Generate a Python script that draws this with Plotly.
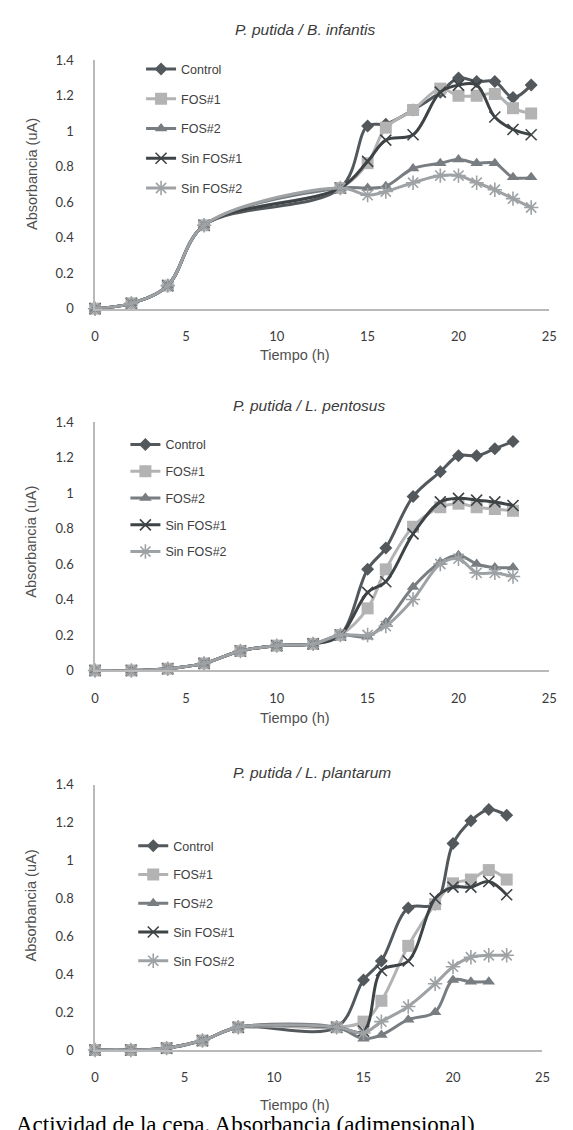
import plotly.graph_objects as go

# ---------------- data ----------------
series_names = ["Control", "FOS#1", "FOS#2", "Sin FOS#1", "Sin FOS#2"]

t1 = [0, 2, 4, 6, 13.5, 15, 16, 17.5, 19, 20, 21, 22, 23, 24]
p1_control = [0, 0.03, 0.13, 0.47, 0.68, 1.03, 1.04, 1.12, 1.22, 1.30, 1.28, 1.28, 1.19, 1.26]
p1_fos1 = [0, 0.03, 0.13, 0.47, 0.68, 0.82, 1.02, 1.12, 1.24, 1.20, 1.20, 1.21, 1.13, 1.10]
p1_fos2 = [0, 0.03, 0.13, 0.47, 0.68, 0.68, 0.69, 0.79, 0.82, 0.84, 0.82, 0.82, 0.74, 0.74]
p1_sin1 = [0, 0.03, 0.13, 0.47, 0.68, 0.83, 0.95, 0.98, 1.22, 1.26, 1.26, 1.08, 1.01, 0.98]
p1_sin2 = [0, 0.03, 0.13, 0.47, 0.68, 0.64, 0.66, 0.71, 0.75, 0.75, 0.71, 0.67, 0.62, 0.57]

t2 = [0, 2, 4, 6, 8, 10, 12, 13.5, 15, 16, 17.5, 19, 20, 21, 22, 23]
p2_control = [0, 0, 0.01, 0.04, 0.11, 0.14, 0.15, 0.20, 0.57, 0.69, 0.98, 1.12, 1.21, 1.21, 1.25, 1.29]
p2_fos1 = [0, 0, 0.01, 0.04, 0.11, 0.14, 0.15, 0.20, 0.35, 0.57, 0.81, 0.92, 0.94, 0.92, 0.91, 0.90]
p2_fos2 = [0, 0, 0.01, 0.04, 0.11, 0.14, 0.15, 0.20, 0.19, 0.27, 0.47, 0.61, 0.65, 0.60, 0.58, 0.58]
p2_sin1 = [0, 0, 0.01, 0.04, 0.11, 0.14, 0.15, 0.20, 0.44, 0.50, 0.77, 0.95, 0.97, 0.96, 0.95, 0.93]
p2_sin2 = [0, 0, 0.01, 0.04, 0.11, 0.14, 0.15, 0.20, 0.20, 0.25, 0.40, 0.60, 0.63, 0.55, 0.55, 0.53]

t3 = [0, 2, 4, 6, 8, 13.5, 15, 16, 17.5, 19, 20, 21, 22, 23]
p3_control = [0, 0, 0.01, 0.05, 0.12, 0.12, 0.37, 0.47, 0.75, 0.77, 1.09, 1.21, 1.27, 1.24]
p3_fos1 = [0, 0, 0.01, 0.05, 0.12, 0.12, 0.15, 0.26, 0.55, 0.77, 0.88, 0.90, 0.95, 0.90]
p3_fos2 = [0, 0, 0.01, 0.05, 0.12, 0.12, 0.06, 0.08, 0.16, 0.20, 0.37, 0.36, 0.36, None]
p3_sin1 = [0, 0, 0.01, 0.05, 0.12, 0.12, 0.10, 0.42, 0.47, 0.80, 0.86, 0.86, 0.89, 0.82]
p3_sin2 = [0, 0, 0.01, 0.05, 0.12, 0.12, 0.09, 0.15, 0.23, 0.35, 0.44, 0.49, 0.50, 0.50]

panel_titles = ["P. putida / B. infantis", "P. putida / L. pentosus", "P. putida / L. plantarum"]
x_ticks = [0, 5, 10, 15, 20, 25]
y_ticks = [0, 0.2, 0.4, 0.6, 0.8, 1, 1.2, 1.4]
y_ticktext = ["0", "0.2", "0.4", "0.6", "0.8", "1", "1.2", "1.4"]
x_title = "Tiempo (h)"
y_title = "Absorbancia (uA)"
caption = "Actividad de la cepa. Absorbancia (adimensional)"

# ---------------- styles ----------------
W, H = 573, 1130
colors = ["#53585c", "#b3b3b3", "#787d81", "#3e4346", "#9ea2a5"]
symbols = ["diamond", "square", "triangle-up", "x-thin", "asterisk-open"]
msizes = [10, 12, 11, 11, 12]

panels = [
    (t1, [p1_control, p1_fos1, p1_fos2, p1_sin1, p1_sin2]),
    (t2, [p2_control, p2_fos1, p2_fos2, p2_sin1, p2_sin2]),
    (t3, [p3_control, p3_fos1, p3_fos2, p3_sin1, p3_sin2]),
]

# pixel geometry (x0, x25, y0, y14)
geom = [
    (93, 557, 305, 53),
    (93, 557, 672, 420),
    (93, 550, 1057, 788),
]
title_pos = [(307, 22), (312, 403), (315, 775)]
ytitle_pos = [168, 541, 910]
xtitle_pos = [352, 720, 1113]
legend_pos = [(140, 47, 10.5), (124, 428, 7.5), (132, 835, 9.5)]

def px_x(p):
    return p / W

def px_y(p):
    return 1 - p / H

fig = go.Figure()
annotations = []
for i, (t, ys) in enumerate(panels):
    ax = "" if i == 0 else str(i + 1)
    leg = "legend" if i == 0 else "legend" + str(i + 1)
    for j, (name, y) in enumerate(zip(series_names, ys)):
        marker = dict(symbol=symbols[j], size=msizes[j], color=colors[j])
        if symbols[j] in ("x-thin", "asterisk-open"):
            marker["line"] = dict(color=colors[j], width=1.6)
        fig.add_trace(go.Scatter(
            x=t, y=y, name=name, mode="lines+markers",
            line=dict(color=colors[j], width=3, shape="spline", smoothing=1),
            marker=marker, xaxis="x" + ax, yaxis="y" + ax,
            legend=leg, legendgroup=f"g{i}{j}", cliponaxis=False,
        ))
    x0, x25, y0, y14 = geom[i]
    axis_common = dict(showgrid=False, zeroline=False, showline=True,
                       linecolor="#b9b9b9", linewidth=1.5, ticks="outside",
                       tickcolor="rgba(0,0,0,0)",
                       tickfont=dict(family="Lato", size=13, color="#3a3a3a"))
    fig.layout["xaxis" + ax] = dict(axis_common, domain=[px_x(x0), px_x(x25)],
                                    range=[0, 25], tickvals=x_ticks, ticklen=15,
                                    anchor="y" + ax)
    fig.layout["yaxis" + ax] = dict(axis_common, domain=[px_y(y0), px_y(y14)],
                                    range=[0, 1.4], tickvals=y_ticks,
                                    ticktext=y_ticktext, ticklen=17,
                                    anchor="x" + ax)
    lx, ly, gap = legend_pos[i]
    fig.layout[leg] = dict(x=px_x(lx), y=px_y(ly), xanchor="left", yanchor="top",
                           xref="paper", yref="paper", tracegroupgap=gap,
                           bgcolor="rgba(0,0,0,0)",
                           font=dict(family="Liberation Sans", size=12.5, color="#404040"))
    tx, ty = title_pos[i]
    annotations.append(dict(text="<i>" + panel_titles[i] + "</i>", x=px_x(tx), y=px_y(ty),
                            xref="paper", yref="paper", showarrow=False,
                            xanchor="center", yanchor="middle",
                            font=dict(family="Liberation Sans", size=15.5, color="#3a3a3a")))
    annotations.append(dict(text=y_title, x=px_x(28), y=px_y(ytitle_pos[i]),
                            xref="paper", yref="paper", showarrow=False, textangle=-90,
                            xanchor="center", yanchor="middle",
                            font=dict(family="Liberation Sans", size=14.5, color="#505050")))
    annotations.append(dict(text=x_title, x=px_x(297), y=px_y(xtitle_pos[i]),
                            xref="paper", yref="paper", showarrow=False,
                            xanchor="center", yanchor="middle",
                            font=dict(family="Liberation Sans", size=14.5, color="#505050")))

annotations.append(dict(text=caption, x=px_x(10), y=px_y(1133), xref="paper", yref="paper",
                        xanchor="left", yanchor="middle", showarrow=False,
                        font=dict(family="Liberation Serif", size=23, color="#000000")))

fig.update_layout(width=W, height=H, margin=dict(l=0, r=0, t=0, b=0),
                  paper_bgcolor="white", plot_bgcolor="white",
                  annotations=annotations, showlegend=True)
fig.write_html("out.html")
